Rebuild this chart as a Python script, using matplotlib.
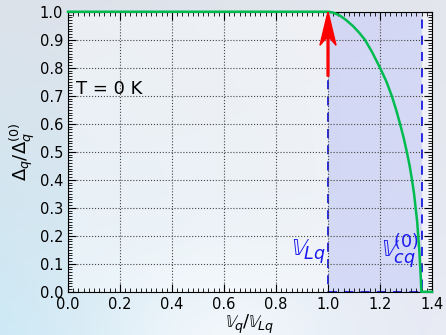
import numpy as np
import matplotlib.pyplot as plt
from matplotlib.ticker import MultipleLocator

# curve: Delta_q / Delta_q^(0) against V_q / V_Lq
v_ratio = [0.0, 1.0, 1.02, 1.046, 1.07, 1.097, 1.12, 1.142, 1.17, 1.2, 1.225,
           1.245, 1.262, 1.277, 1.291, 1.303, 1.314, 1.323, 1.331, 1.337,
           1.343, 1.347, 1.351, 1.354, 1.357, 1.359, 1.4]
gap_ratio = [1.0, 1.0, 0.997, 0.986, 0.97, 0.948, 0.925, 0.9, 0.855, 0.8, 0.75,
             0.7, 0.65, 0.6, 0.55, 0.5, 0.45, 0.4, 0.35, 0.3,
             0.25, 0.2, 0.15, 0.1, 0.05, 0.0, 0.0]

v_lq = 1.0
v_cq = 1.36
arrow_base = 0.77

fig = plt.figure(figsize=(4.46, 3.35), dpi=100)

# soft bluish background behind everything
bg = fig.add_axes([0, 0, 1, 1], zorder=-10)
corners = np.array([[[220, 226, 234], [228, 230, 237]],
                    [[205, 233, 245], [232, 234, 244]]]) / 255.0
ny, nx = 60, 80
ty = np.linspace(0, 1, ny)[:, None, None]
tx = np.linspace(0, 1, nx)[None, :, None]
grad = ((1 - ty) * ((1 - tx) * corners[0, 0] + tx * corners[0, 1])
        + ty * ((1 - tx) * corners[1, 0] + tx * corners[1, 1]))
# lighter band near the bottom middle
glow = np.exp(-((tx - 0.5) ** 2 / 0.08 + (ty - 1.0) ** 2 / 0.05))
grad = grad + (1 - grad) * 0.6 * glow
bg.imshow(np.clip(grad, 0, 1), aspect='auto', extent=[0, 1, 0, 1], interpolation='bilinear')
bg.axis('off')

ax = fig.add_axes([0.1525, 0.129, 0.8161, 0.836])
ax.set_facecolor((1, 1, 1, 0.45))

ax.axvspan(v_lq, v_cq, ymin=0, ymax=1, facecolor=(0.55, 0.6, 0.95, 0.28),
           edgecolor='#1a1ae0', linestyle=(0, (5, 4)), linewidth=1.3, zorder=1)

ax.plot(v_ratio, gap_ratio, color='#00bb4f', linewidth=1.8, zorder=4, clip_on=False)

ax.arrow(v_lq, arrow_base, 0, 1.0 - arrow_base, width=0.007, head_width=0.062,
         head_length=0.12, length_includes_head=True, overhang=0.25,
         fc='red', ec='red', zorder=5)

ax.text(0.03, 0.725, 'T = 0 K', fontsize=13, va='center', ha='left')
ax.text(0.99, 0.145, r'$\mathbb{V}_{Lq}$', color='#1a1aee', fontsize=18,
        ha='right', va='center')
ax.text(1.348, 0.145, r'$\mathbb{V}_{cq}^{\mathit{(0)}}$', color='#1a1aee', fontsize=18,
        ha='right', va='center')

ax.set_xlim(0, 1.4)
ax.set_ylim(0, 1.0)
ax.xaxis.set_major_locator(MultipleLocator(0.2))
ax.xaxis.set_minor_locator(MultipleLocator(0.02))
ax.yaxis.set_major_locator(MultipleLocator(0.1))
ax.yaxis.set_minor_locator(MultipleLocator(0.01))
ax.tick_params(which='both', direction='in', top=True, right=True, labelsize=10.5)
ax.tick_params(which='major', length=6, width=0.8)
ax.tick_params(which='minor', length=3, width=0.6)
ax.grid(True, which='major', color='#444444', linestyle=':', linewidth=0.8)

ax.set_xlabel(r'$\mathbb{V}_q/\mathbb{V}_{Lq}$', fontsize=13, labelpad=1)
ax.set_ylabel(r'$\Delta_q/\Delta_q^{(0)}$', fontsize=13, labelpad=2)

fig.savefig('out.png', dpi=100)
